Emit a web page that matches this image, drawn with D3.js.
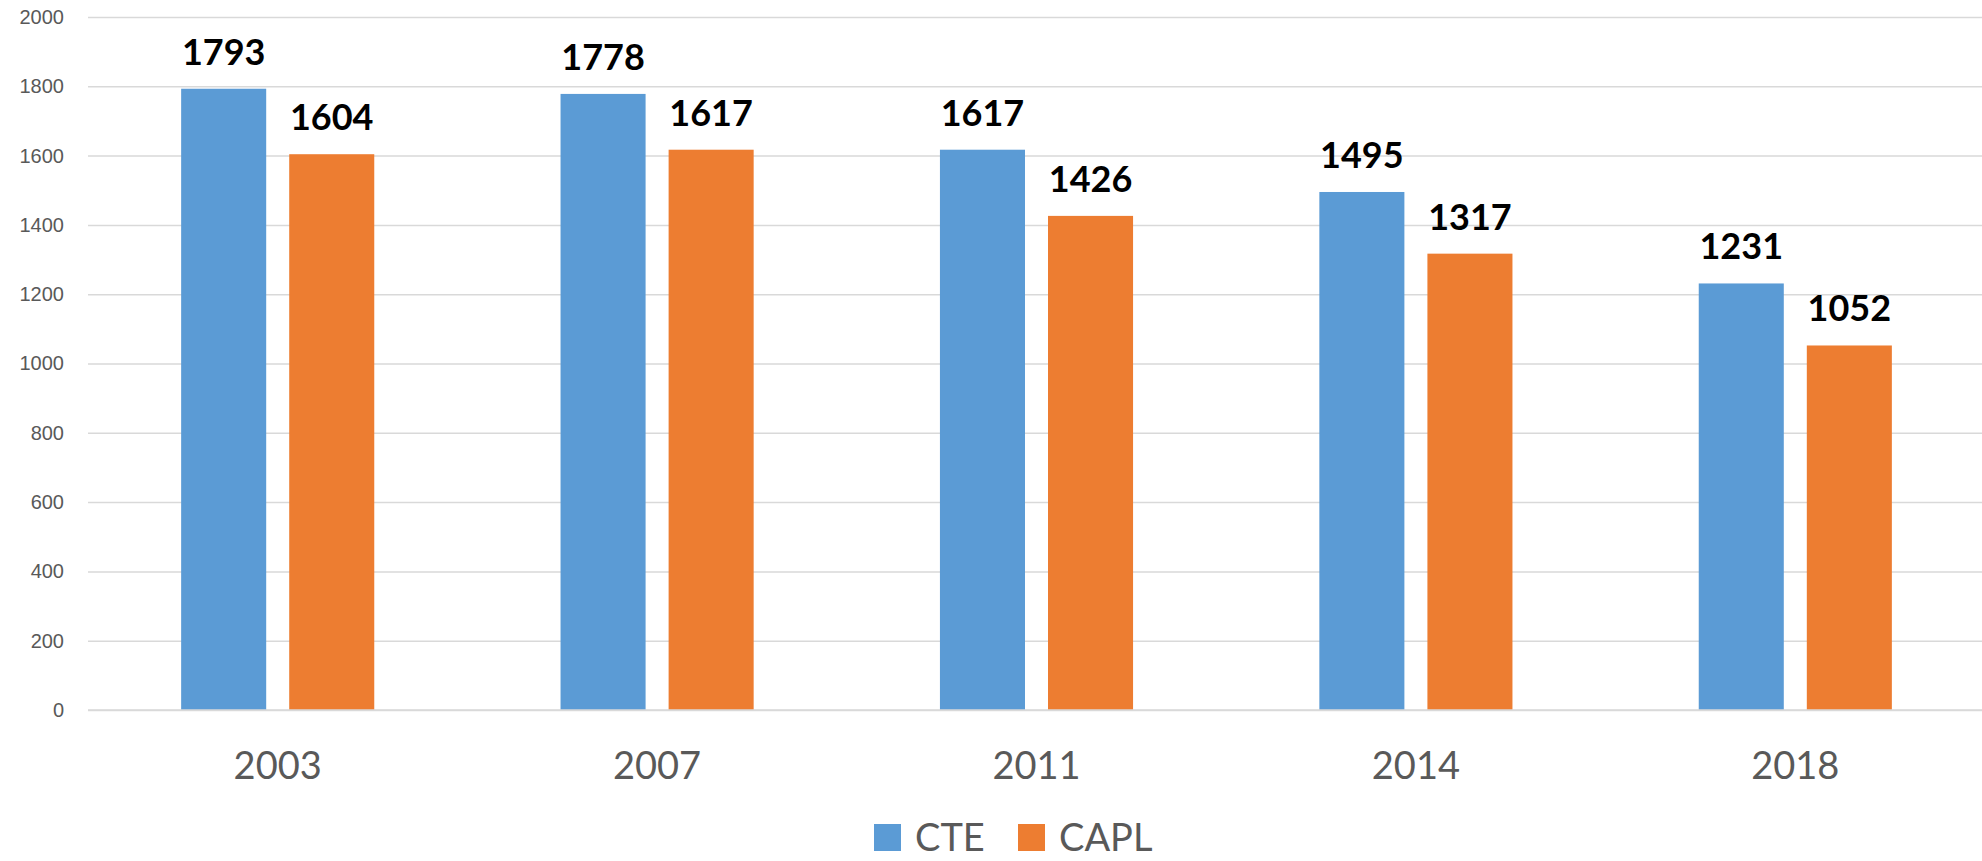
<!DOCTYPE html>
<html>
<head>
<meta charset="utf-8">
<script src="https://cdn.jsdelivr.net/npm/d3@7"></script>
<style>
  body { margin: 0; background: #fff; }
  svg { display: block; font-family: Lato, "Open Sans", sans-serif; }
</style>
</head>
<body>
<div class="graph"></div>
<script>
const years = ["2003", "2007", "2011", "2014", "2018"];
const series = ["CTE", "CAPL"];
const cteValues = [1793, 1778, 1617, 1495, 1231];
const caplValues = [1604, 1617, 1426, 1317, 1052];
const yTicks = [0, 200, 400, 600, 800, 1000, 1200, 1400, 1600, 1800, 2000];
const colors = { CTE: "#5b9bd5", CAPL: "#ed7d31" };

const width = 1982, height = 861;
const svg = d3.select(".graph").append("svg").attr("width", width).attr("height", height);

const rows = years.map((y, i) => ({ year: y, CTE: cteValues[i], CAPL: caplValues[i] }));

const x0 = d3.scaleBand().domain(years).range([88, 1985]).paddingInner(0.491).paddingOuter(0.2455);
const x1 = d3.scaleBand().domain(series).range([0, x0.bandwidth()]).paddingInner(0.213);
const yScale = d3.scaleLinear().domain([0, 2000]).range([710, 17]);

// gridlines + y labels
const yaxis = d3.axisLeft(yScale).tickValues(yTicks).tickFormat(d3.format("d"))
    .tickSize(-(1985 - 88)).tickPadding(24);
svg.append("g")
    .attr("class", "axis")
    .attr("transform", "translate(88,0)")
    .call(yaxis)
    .call(g => g.select(".domain").remove())
    .call(g => g.selectAll("line").attr("stroke", "#d9d9d9").attr("stroke-width", 1.5))
    .call(g => g.selectAll("text").attr("fill", "#595959").style("font-size", "20px"));

const groups = svg.append("g").selectAll("g")
    .data(rows)
    .join("g")
    .attr("transform", d => "translate(" + x0(d.year) + ",0)");

groups.selectAll("rect")
    .data(d => series.map(s => ({ key: s, value: d[s] })))
    .join("rect")
    .attr("x", d => x1(d.key))
    .attr("y", d => yScale(d.value))
    .attr("width", x1.bandwidth())
    .attr("height", d => yScale(0) - yScale(d.value))
    .attr("fill", d => colors[d.key]);

groups.selectAll("text.val")
    .data(d => series.map(s => ({ key: s, value: d[s] })))
    .join("text")
    .attr("class", "val")
    .attr("x", d => x1(d.key) + x1.bandwidth() / 2)
    .attr("y", d => yScale(d.value) - 24)
    .attr("text-anchor", "middle")
    .style("font-size", "36px")
    .style("font-weight", "bold")
    .attr("fill", "#000")
    .text(d => d.value);

// x axis baseline
svg.append("line")
    .attr("x1", 88).attr("x2", 1985)
    .attr("y1", yScale(0)).attr("y2", yScale(0))
    .attr("stroke", "#d9d9d9").attr("stroke-width", 1.5);

// category labels
svg.append("g").selectAll("text")
    .data(years)
    .join("text")
    .attr("x", d => x0(d) + x0.bandwidth() / 2)
    .attr("y", 779)
    .attr("text-anchor", "middle")
    .attr("fill", "#595959")
    .style("font-size", "38px")
    .text(d => d);

// legend
const legendX = { CTE: 874, CAPL: 1018 };
const legend = svg.append("g").selectAll("g")
    .data(series)
    .join("g")
    .attr("transform", d => "translate(" + legendX[d] + ",824)");
legend.append("rect")
    .attr("width", 27).attr("height", 27)
    .attr("fill", d => colors[d]);
legend.append("text")
    .attr("x", 41).attr("y", 27)
    .attr("fill", "#595959")
    .style("font-size", "38px")
    .text(d => d);
</script>
</body>
</html>
